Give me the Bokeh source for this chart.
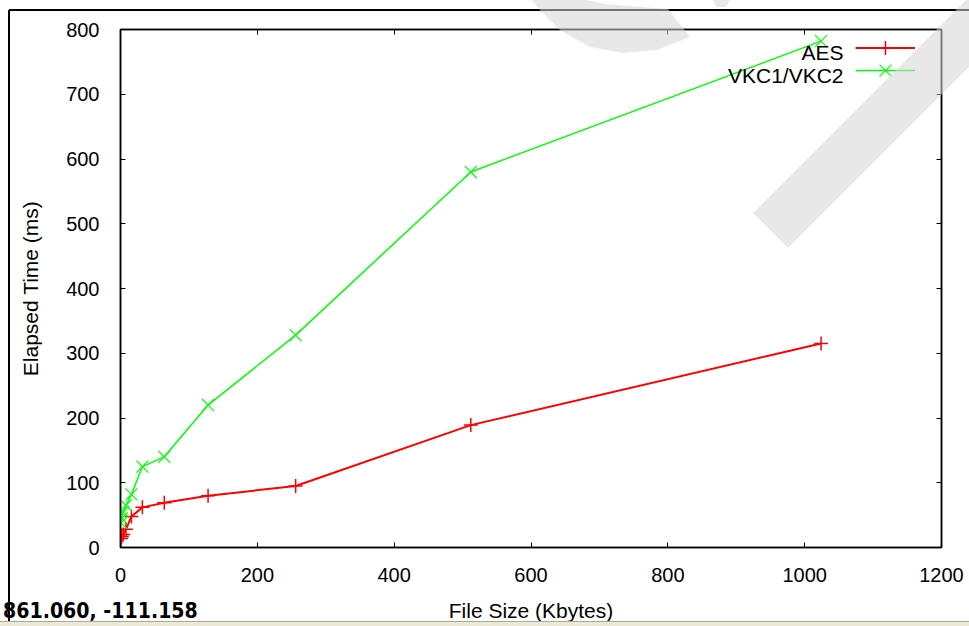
from bokeh.plotting import figure
from bokeh.layouts import column
from bokeh.models import (Range1d, LinearAxis, SingleIntervalTicker, Legend, LegendItem,
                          Label, Div, CustomJSTickFormatter)
from bokeh.embed import file_html
from bokeh.resources import INLINE

# ---- data (file size in Kbytes, elapsed time in ms) ----
file_size = [1, 2, 4, 8, 16, 32, 64, 128, 256, 512, 1024]
aes_time = [14, 17, 20, 28, 48, 62, 69, 80, 95, 189, 315]
vkc_time = [38, 45, 55, 65, 82, 125, 140, 220, 328, 580, 782]
series_names = ["AES", "VKC1/VKC2"]
x_label = "File Size (Kbytes)"
y_label = "Elapsed Time (ms)"
status_text = "861.060, -111.158"

FONT = "Liberation Sans"
W, H = 969, 626

p = figure(width=W, height=H, output_backend="svg", toolbar_location=None,
           x_range=Range1d(0, 1200), y_range=Range1d(0, 800),
           min_border_left=120, min_border_right=28, min_border_top=29, min_border_bottom=79)
p.background_fill_color = "white"
p.border_fill_color = "white"
p.grid.visible = False
p.outline_line_color = "black"
p.outline_line_width = 1.5

p.xaxis.ticker = SingleIntervalTicker(interval=200)
p.yaxis.ticker = SingleIntervalTicker(interval=100)


def style_axis(ax, labels=True):
    ax.axis_line_color = "black"
    ax.axis_line_width = 1.5
    ax.major_tick_in = 5
    ax.major_tick_out = 0
    ax.major_tick_line_color = "black"
    ax.major_tick_line_width = 1
    ax.minor_tick_line_color = None
    if labels:
        ax.major_label_text_font = FONT
        ax.major_label_text_font_size = "20px"
        ax.major_label_text_color = "black"
        ax.axis_label_text_font = FONT
        ax.axis_label_text_font_size = "21px"
        ax.axis_label_text_font_style = "normal"
        ax.axis_label_text_color = "black"
    else:
        ax.formatter = CustomJSTickFormatter(code="return ''")
        ax.major_label_text_font_size = "10px"
        ax.major_label_standoff = 0


for ax in p.xaxis:
    style_axis(ax)
    ax.axis_label = x_label
    ax.major_label_standoff = 16
    ax.axis_label_standoff = 14
for ax in p.yaxis:
    style_axis(ax)
    ax.axis_label = y_label
    ax.major_label_standoff = 17
    ax.axis_label_standoff = 21

top_ax = LinearAxis(ticker=SingleIntervalTicker(interval=200))
style_axis(top_ax, labels=False)
p.add_layout(top_ax, "above")
right_ax = LinearAxis(ticker=SingleIntervalTicker(interval=100))
style_axis(right_ax, labels=False)
p.add_layout(right_ax, "right")

# ---- series ----
r_aes_line = p.line(file_size, aes_time, line_color="#ff0000", line_width=2)
r_aes_pts = p.scatter(file_size, aes_time, marker="cross", size=14,
                      line_color="#ff0000", line_width=1.5)
r_vkc_line = p.line(file_size, vkc_time, line_color="#00ff00", line_width=1.5)
r_vkc_pts = p.scatter(file_size, vkc_time, marker="x", size=17,
                      line_color="#00ff00", line_width=1.2)

# legend: sample glyphs via Bokeh legends, names as right-aligned labels to their left
leg_common = dict(glyph_width=60, label_width=0, label_standoff=0, spacing=0,
                  padding=0, margin=0, border_line_color=None, background_fill_alpha=0,
                  label_text_font=FONT, label_text_font_size="20px")
p.add_layout(Legend(items=[LegendItem(label=" ", renderers=[r_aes_line, r_aes_pts])],
                    location=(735, 482), glyph_height=35, label_height=35, **leg_common))
p.add_layout(Legend(items=[LegendItem(label=" ", renderers=[r_vkc_line, r_vkc_pts])],
                    location=(735, 456), glyph_height=42, label_height=42, **leg_common))

for name, yy in zip(series_names, [495, 472]):
    p.add_layout(Label(x=723, y=yy, x_units="screen", y_units="screen", text=name,
                       text_align="right", text_baseline="middle",
                       text_font=FONT, text_font_size="21px", text_color="black"))

# ---- window decorations: frame, watermark, status bar and coordinate readout ----
wm_fill = 'fill="#d6d6d6" fill-opacity="0.55"'
overlay_html = f"""
<div style="position:relative;width:{W}px;height:{H}px;pointer-events:none;">
<svg xmlns="http://www.w3.org/2000/svg" width="{W}" height="{H}" style="position:absolute;left:0;top:0;">
<line x1="9" y1="10" x2="{W}" y2="10" stroke="black" stroke-width="2"/>
<line x1="9" y1="10" x2="9" y2="{H}" stroke="black" stroke-width="2"/>
<rect x="0" y="621" width="{W}" height="5" fill="#ece9d8"/>
<line x1="0" y1="621.5" x2="{W}" y2="621.5" stroke="#aca899" stroke-width="1"/>
<polygon points="753,213 1053,-87 1088,-52 788,248" {wm_fill}/>
<polygon points="528,-2 532,0 540,10 560,30 590,47 623,53 657,50 690,37 668,9 640,7 605,4 578,-2" {wm_fill}/>
<polygon points="713,0 730,0 726,7 716,7" {wm_fill}/>
</svg>
<span style="position:absolute;left:3px;top:597px;white-space:nowrap;font-family:'DejaVu Sans';font-weight:bold;font-size:19px;line-height:22px;color:black;display:inline-block;transform:scale(1,1.15);transform-origin:left top;">{status_text}</span>
</div>
"""
overlay = Div(text=overlay_html, width=W, height=H, margin=(-H, 0, 0, 0),
              styles={"pointer-events": "none"})

layout = column(p, overlay, spacing=0)

open("out.html", "w").write(file_html(layout, INLINE))
